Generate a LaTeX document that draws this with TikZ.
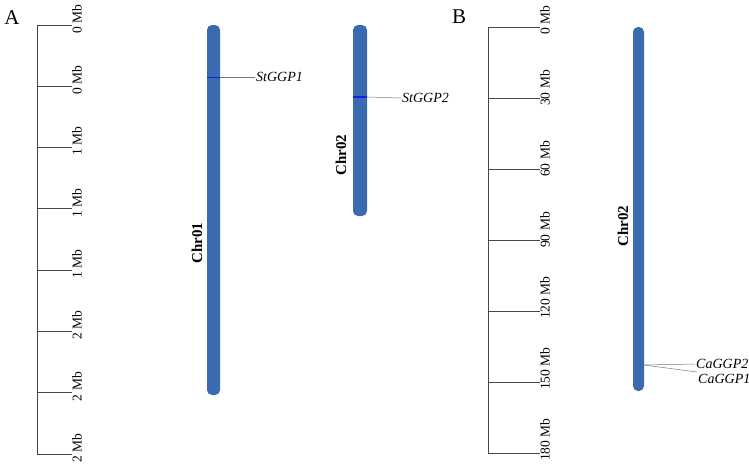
\documentclass[tikz,border=0pt]{standalone}
\usepackage{fontspec}
\setmainfont{Liberation Serif}
\definecolor{chrblue}{RGB}{58,106,175}
\definecolor{genemark}{RGB}{20,30,230}
\definecolor{rulergray}{RGB}{70,70,70}
\definecolor{connectgray}{RGB}{120,120,120}
\begin{document}
\begin{tikzpicture}[x=1pt,y=-1pt,
  ruler/.style={draw=rulergray,line width=0.9pt},
  ticklabel/.style={rotate=90,anchor=north west,inner sep=0pt,font=\fontsize{13.5}{15}\selectfont},
  chrbar/.style={fill=chrblue,draw=none,rounded corners=5pt},
  chrlabel/.style={rotate=90,inner sep=0pt,font=\fontsize{15}{17}\selectfont\bfseries},
  genelabel/.style={anchor=west,inner sep=1pt,font=\fontsize{14}{16}\selectfont\itshape},
  connector/.style={draw=connectgray,line width=0.5pt},
  panel/.style={inner sep=0pt,font=\fontsize{21}{23}\selectfont}]
\useasboundingbox (0,0) rectangle (749,467);
% panel labels
\node[panel] (pA) at (12,18) {A};
\node[panel] (pB) at (459,17) {B};
% ruler A
\draw[ruler] (37,25) -- (37,454);
\foreach \i/\lab in {0/0 Mb,1/0 Mb,2/1 Mb,3/1 Mb,4/1 Mb,5/2 Mb,6/2 Mb,7/2 Mb}{
  \pgfmathsetmacro{\yy}{25+\i*61.29}
  \draw[ruler] (37,\yy) -- (72,\yy);
  \node[ticklabel] (ta\i) at (72,\yy+8.5) {\lab};
}
% ruler B
\draw[ruler] (488,27) -- (488,453);
\foreach \i/\lab in {0/0 Mb,1/30 Mb,2/60 Mb,3/90 Mb,4/120 Mb,5/150 Mb,6/180 Mb}{
  \pgfmathsetmacro{\yy}{27+\i*71}
  \draw[ruler] (488,\yy) -- (540,\yy);
  \node[ticklabel] (tb\i) at (540,\yy+8) {\lab};
}
% chromosomes A
\fill[chrbar] (207,25) rectangle (220,395);
\node[chrlabel] (c1) at (197,243) {Chr01};
\fill[chrbar] (353,25) rectangle (367,216);
\node[chrlabel] (c2) at (341,155) {Chr02};
% chromosome B
\fill[chrbar] (633,27) rectangle (644,391);
\node[chrlabel] (c3) at (623,226) {Chr02};
% gene StGGP1
\draw[genemark,line width=1pt] (207,77) -- (220,77);
\coordinate (g1) at (220,77);
\node[genelabel] (l1) at (255,77) {StGGP1};
\draw[connector] (g1) -- (l1.west);
% gene StGGP2
\draw[genemark,line width=2pt] (353,97) -- (367,97);
\coordinate (g2) at (367,97);
\node[genelabel] (l2) at (401,98) {StGGP2};
\draw[connector] (g2) -- (l2.west);
% genes CaGGP2 / CaGGP1
\coordinate (g3) at (644,365);
\node[genelabel] (l3) at (695,364) {CaGGP2};
\node[genelabel] (l4) at (697,379) {CaGGP1};
\coordinate (e4) at (697,372);
\draw[connector] (g3) -- (l3.west);
\draw[connector] (g3) -- (e4);
\end{tikzpicture}
\end{document}
